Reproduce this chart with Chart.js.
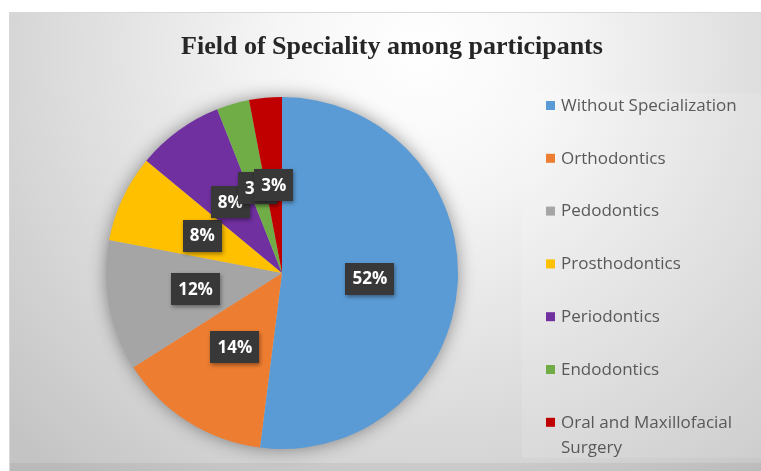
<!DOCTYPE html>
<html>
<head>
<meta charset="utf-8">
<script src="https://cdn.jsdelivr.net/npm/chart.js@4.4.1/dist/chart.umd.min.js"></script>
<style>
    html, body { margin: 0; padding: 0; background: #fff; }
    #wrap { position: relative; width: 761px; height: 471px; }
</style>
</head>
<body>
<div id="wrap"><canvas id="chart" width="761" height="471"></canvas></div>
<script>
const chartTitle = 'Field of Speciality among participants';
const categories = ['Without Specialization', 'Orthodontics', 'Pedodontics', 'Prosthodontics',
    'Periodontics', 'Endodontics', 'Oral and Maxillofacial Surgery'];
const percents = [52, 14, 12, 8, 8, 3, 3];
const sliceColors = ['#5b9bd5', '#ed7d31', '#a5a5a5', '#ffc000', '#7030a0', '#70ad47', '#c00000'];

// background, pie glow, value boxes, legend and title
const decorPlugin = {
    id: 'decor',
    beforeDraw(chart) {
        const ctx = chart.ctx;
        ctx.save();
        ctx.fillStyle = '#ffffff';
        ctx.fillRect(0, 0, 761, 471);
        const g = ctx.createRadialGradient(420, 50, 0, 420, 50, 560);
        g.addColorStop(0, '#ffffff');
        g.addColorStop(0.25, '#f6f6f6');
        g.addColorStop(1, '#c4c4c4');
        ctx.fillStyle = g;
        ctx.fillRect(9, 12, 752, 459);
        ctx.fillStyle = 'rgba(0,0,0,0.05)';
        ctx.fillRect(9, 463, 752, 8);
        ctx.strokeStyle = '#d8d8d8';
        ctx.lineWidth = 1;
        ctx.beginPath();
        ctx.moveTo(9.5, 471); ctx.lineTo(9.5, 12.5); ctx.lineTo(761, 12.5);
        ctx.stroke();
        // legend area
        ctx.fillStyle = 'rgba(255,255,255,0.12)';
        ctx.fillRect(522, 93, 239, 365);
        ctx.restore();
    },
    beforeDatasetsDraw(chart) {
        const arc = chart.getDatasetMeta(0).data[0];
        if (!arc) return;
        const ctx = chart.ctx;
        ctx.save();
        ctx.shadowColor = 'rgba(0,0,0,0.45)';
        ctx.shadowBlur = 18;
        ctx.fillStyle = '#bbbbbb';
        ctx.beginPath();
        ctx.arc(arc.x, arc.y, arc.outerRadius - 1, 0, Math.PI * 2);
        ctx.fill();
        ctx.restore();
    },
    afterDatasetsDraw(chart) {
        const ctx = chart.ctx;
        const meta = chart.getDatasetMeta(0);
        ctx.save();
        ctx.font = 'bold 17px "Open Sans"';
        ctx.textAlign = 'center';
        ctx.textBaseline = 'middle';
        meta.data.forEach(function(arc, i) {
            const p = arc.getCenterPoint();
            const txt = percents[i] + '%';
            const w = ctx.measureText(txt).width + 14;
            const h = 32;
            ctx.shadowColor = 'rgba(0,0,0,0.4)';
            ctx.shadowBlur = 4;
            ctx.shadowOffsetX = 1;
            ctx.shadowOffsetY = 2;
            ctx.fillStyle = '#383838';
            ctx.fillRect(Math.round(p.x - w / 2), Math.round(p.y - h / 2), Math.round(w), h);
            ctx.shadowColor = 'transparent';
            ctx.fillStyle = '#ffffff';
            ctx.fillText(txt, p.x, p.y + 1);
        });
        ctx.restore();
    },
    afterDraw(chart) {
        const ctx = chart.ctx;
        ctx.save();
        // title
        ctx.fillStyle = '#262626';
        ctx.font = 'bold 26px "Liberation Serif"';
        ctx.textAlign = 'center';
        ctx.textBaseline = 'middle';
        ctx.fillText(chartTitle, 392, 47);
        // legend
        ctx.font = '17px "Open Sans"';
        ctx.textAlign = 'left';
        let y = 106;
        categories.forEach(function(name, i) {
            ctx.fillStyle = sliceColors[i];
            ctx.fillRect(546, y - 5, 9, 9);
            ctx.fillStyle = '#595959';
            const words = name.split(' ');
            let line = '';
            let ly = y;
            words.forEach(function(word) {
                const test = line ? line + ' ' + word : word;
                if (line && ctx.measureText(test).width > 190) {
                    ctx.fillText(line, 561, ly);
                    line = word;
                    ly += 25;
                } else {
                    line = test;
                }
            });
            ctx.fillText(line, 561, ly);
            y += 52.8;
        });
        ctx.restore();
    }
};

new Chart(document.getElementById('chart'), {
    type: 'pie',
    data: {
        labels: categories,
        datasets: [{
            data: percents,
            backgroundColor: sliceColors,
            borderWidth: 0
        }]
    },
    options: {
        responsive: false,
        animation: false,
        layout: {
            padding: { left: 106, right: 303, top: 97, bottom: 22 }
        },
        plugins: {
            legend: { display: false },
            tooltip: { enabled: false },
            title: { display: false }
        }
    },
    plugins: [decorPlugin]
});
</script>
</body>
</html>
